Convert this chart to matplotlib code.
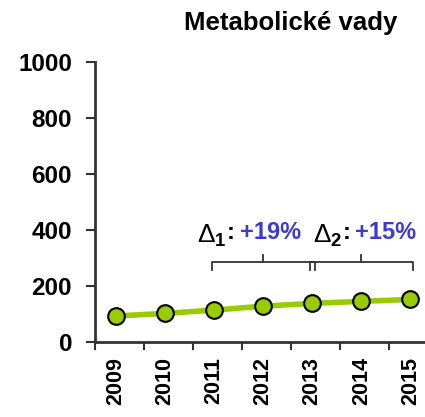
import matplotlib.pyplot as plt

plt.rcParams['font.family'] = ['Liberation Sans', 'DejaVu Sans']
plt.rcParams['mathtext.fontset'] = 'custom'
plt.rcParams['mathtext.rm'] = 'Liberation Sans'
plt.rcParams['mathtext.it'] = 'Liberation Sans'
plt.rcParams['mathtext.bf'] = 'Liberation Sans:bold'

# Data
years = ['2009', '2010', '2011', '2012', '2013', '2014', '2015']
values = [92, 101, 113, 127, 137, 144, 151]
deltas = ['+19%', '+15%']
delta_idx = ['1', '2']
delta_spans = [(2, 4), (4, 6)]

green = '#99CC00'
spine_col = '#333333'
blue = '#3B3BD4'

fig = plt.figure(figsize=(4.25, 4.17), dpi=100)
ax = fig.add_axes([0.2235, 0.1806, 0.7765, 0.671])

x = list(range(len(years)))
ax.plot(x, values, color=green, lw=4, zorder=2, solid_capstyle='round')
ax.plot(x, values, 'o', ms=12, mfc=green, mec='black', mew=1.5, zorder=3)

ax.set_ylim(0, 1000)
ax.set_xlim(-0.43, 6.3)
ax.set_yticks([0, 200, 400, 600, 800, 1000])
ax.set_xticks([i - 0.43 for i in x])
ax.set_xticklabels([])
for i, yr in enumerate(years):
    ax.text(i, -0.055, yr, transform=ax.get_xaxis_transform(), rotation=90,
            ha='center', va='top', fontsize=15.5, fontweight='bold')

for s in ['top', 'right']:
    ax.spines[s].set_visible(False)
for s in ['left', 'bottom']:
    ax.spines[s].set_color(spine_col)
    ax.spines[s].set_linewidth(2)
ax.tick_params(axis='y', length=6.5, width=1.5, color=spine_col, pad=10,
               labelsize=17.5)
ax.tick_params(axis='x', length=6, width=1.5, color=spine_col)
for lab in ax.get_yticklabels():
    lab.set_fontweight('bold')

# brackets with delta labels
label_shift = [-0.34, 0.02]
for (a, b), idx, txt, sh in zip(delta_spans, delta_idx, deltas, label_shift):
    x0, x1 = a - 0.05, b + 0.05
    xm = (x0 + x1) / 2
    ax.plot([x0, x0, x1, x1], [256, 285, 285, 256], color=spine_col, lw=1.3,
            zorder=1)
    ax.plot([xm, xm], [285, 310], color=spine_col, lw=1.3, zorder=1)
    t1 = ax.text(a + sh, 352, r'$\Delta_{\mathbf{' + idx + '}}$',
                 fontsize=19, ha='left', va='baseline', color='black')
    t2 = ax.annotate(':', xy=(1, 0), xycoords=t1, xytext=(0, 4),
                     textcoords='offset points', va='bottom', ha='left',
                     fontsize=17, fontweight='bold', color='black')
    ax.annotate(txt, xy=(1, 0), xycoords=t2, xytext=(3.5, 0),
                textcoords='offset points', va='bottom', ha='left',
                fontsize=17, fontweight='bold', color=blue)

fig.text(0.685, 0.945, 'Metabolické vady', ha='center', va='center',
         fontsize=18.5, fontweight='bold')

fig.savefig('out.png', dpi=100)
